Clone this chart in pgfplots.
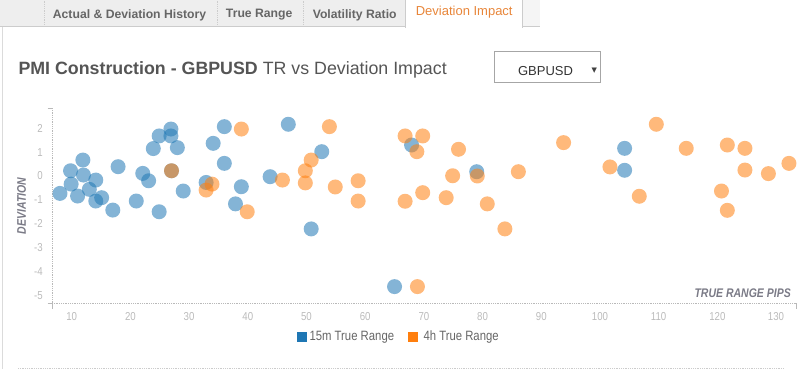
\documentclass[border=0pt]{standalone}
\usepackage{fontspec}
\setmainfont{Liberation Sans}
\newfontfamily\cond[FakeStretch=0.84]{Liberation Sans}
\newfontfamily\symfont{DejaVu Sans}
\usepackage{pgfplots}
\pgfplotsset{compat=1.18}
\definecolor{cblue}{HTML}{1F77B4}
\definecolor{corange}{HTML}{FF7F0E}
\definecolor{ticktxt}{HTML}{BBBBBB}
\definecolor{axlab}{HTML}{7A7A86}
\definecolor{titletxt}{HTML}{555555}
\definecolor{tabgray}{HTML}{EEEEEE}
\definecolor{tabtxt}{HTML}{666666}
\definecolor{taborange}{HTML}{E8863A}
\definecolor{linegray}{HTML}{CCCCCC}
\begin{document}
\begin{tikzpicture}
\begin{scope}[x=1pt,y=1pt]
\path[use as bounding box] (0,0) rectangle (798,369);
% tab bar
\fill[tabgray] (0,342.3) rectangle (405,369);
\fill[tabgray!60] (522,342.3) rectangle (540,369);
\draw[linegray, line width=0.6pt] (0,342.3) -- (405,342.3);
\draw[linegray, line width=0.6pt] (522,342.3) -- (540,342.3);
\foreach \xx in {44.3,217.3,303.3} {\draw[linegray, densely dotted, line width=0.8pt] (\xx,342.3) -- (\xx,369);}
\draw[linegray, line width=0.8pt] (405,341) -- (405,369);
\draw[linegray, line width=0.8pt] (522,341) -- (522,369);
\node[font=\fontsize{12.2}{14}\selectfont\bfseries, text=tabtxt, inner sep=0pt] at (129.5,354) {Actual \& Deviation History};
\node[font=\fontsize{12.2}{14}\selectfont\bfseries, text=tabtxt, inner sep=0pt] at (259.2,354) {True Range};
\node[font=\fontsize{12.2}{14}\selectfont\bfseries, text=tabtxt, inner sep=0pt] at (354.7,354) {Volatility Ratio};
\node[font=\fontsize{13}{15}\selectfont, text=taborange, inner sep=0pt] at (464.2,357) {Deviation Impact};
% left border and bottom line
\draw[linegray!70, line width=0.8pt] (2.5,0) -- (2.5,342.3);
\draw[linegray, densely dotted, line width=0.8pt] (18,1) -- (784,1);
% title
\node[anchor=base west, inner sep=0pt, text=titletxt, font=\fontsize{17.8}{20}\selectfont] at (18.3,294.7) {\textbf{PMI Construction - GBPUSD} TR vs Deviation Impact};
% dropdown
\draw[gray!70, line width=0.7pt] (494.3,286.7) rectangle (600,317.7);
\node[inner sep=0pt, font=\fontsize{13}{15}\selectfont, text=black!80] at (545.5,298.3) {GBPUSD};
\node[inner sep=0pt, font=\symfont\fontsize{7}{8}\selectfont, text=black!75] at (594.2,298.8) {▼};
% end ticks
\draw[gray!55, line width=0.8pt] (52,65.7) -- (52,59.5);
\draw[gray!55, line width=0.8pt] (796,65.7) -- (796,59.5);
\draw[gray!55, line width=0.8pt] (47.5,260.7) -- (52,260.7);
\draw[gray!55, line width=0.8pt] (47.5,65.7) -- (52,65.7);
% axis titles
\node[rotate=90, inner sep=0pt, text=axlab, font=\cond\fontsize{12.5}{14}\selectfont\bfseries\itshape] at (21.5,163) {DEVIATION};
\node[anchor=east, inner sep=0pt, text=axlab, font=\cond\fontsize{12.5}{14}\selectfont\bfseries\itshape] at (791,75.5) {TRUE RANGE PIPS};
% legend
\fill[cblue] (296.7,27) rectangle (306.7,36.5);
\node[anchor=west, inner sep=0pt, text=tabtxt, font=\cond\fontsize{13.5}{15}\selectfont] at (309.3,31.8) {15m True Range};
\fill[corange] (408.3,27) rectangle (418.3,36.5);
\node[anchor=west, inner sep=0pt, text=tabtxt, font=\cond\fontsize{13.5}{15}\selectfont] at (423.3,31.8) {4h True Range};
\end{scope}
% axis
\begin{axis}[
  at={(52pt,65.7pt)}, anchor=south west,
  scale only axis, width=744pt, height=195pt,
  xmin=6.64, xmax=133.4, ymin=-5.34, ymax=2.84,
  axis x line*=bottom, axis y line*=left,
  axis line style={draw=gray!55, densely dotted, line width=0.8pt, -},
  xtick={10,20,...,130},
  ytick={-5,-4,-3,-2,-1,0,1,2},
  yticklabels={{-5},{-4},{-3},{-2},{-1},0,1,2},
  major tick length=0pt,
  tick label style={font=\cond\fontsize{11.5}{12}\selectfont, text=ticktxt, inner sep=0pt},
  /pgf/number format/assume math mode=true,
  xticklabel style={anchor=north, yshift=-9pt},
  yticklabel style={anchor=east, xshift=-9pt},
  clip=false,
]
\addplot[draw=none, only marks, mark=*, mark size=7.5pt, mark options={draw=none, draw opacity=0, fill=cblue, fill opacity=0.55}] coordinates {
(8,-0.73)(9.8,0.22)(9.9,-0.34)(11,-0.84)(11.9,0.67)(12,0.04)(13,-0.56)(14.1,-0.17)(14.1,-1.05)(15.1,-0.91)
(17,-1.43)(17.9,0.39)(21,-1.05)(22.1,0.11)(23.1,-0.2)(23.9,1.15)(24.9,-1.5)(24.9,1.68)(26.9,1.97)(26.9,1.68)
(27,0.22)(28,1.19)(29,-0.63)(32.9,-0.27)(34.1,1.37)(36,2.07)(36,0.53)(37.9,-1.17)(38.9,-0.45)(43.8,-0.03)
(46.9,2.17)(50.8,-2.22)(52.6,1.02)(65,-4.64)(67.9,1.3)(79,0.18)(104.2,1.16)(104.2,0.24)
};
\addplot[draw=none, only marks, mark=*, mark size=7.5pt, mark options={draw=none, draw opacity=0, fill=corange, fill opacity=0.55}] coordinates {
(27,0.22)(32.9,-0.59)(33.9,-0.34)(38.9,1.97)(39.9,-1.5)(45.9,-0.17)(49.8,0.22)(49.8,-0.29)(50.8,0.67)(53.9,2.07)
(54.9,-0.46)(58.8,-0.2)(58.8,-1.05)(66.8,1.68)(66.8,-1.06)(68.8,1.02)(68.9,-4.64)(69.8,1.68)(69.8,-0.7)(73.8,-0.91)
(74.9,0.01)(75.9,1.12)(79.1,0.0)(80.8,-1.17)(83.8,-2.22)(86.1,0.18)(93.8,1.4)(101.7,0.38)(106.7,-0.85)(109.6,2.17)
(114.7,1.16)(120.7,-0.63)(121.7,1.3)(121.7,-1.44)(124.7,1.16)(124.7,0.25)(128.7,0.1)(132.2,0.53)
};
\end{axis}
\end{tikzpicture}
\end{document}
